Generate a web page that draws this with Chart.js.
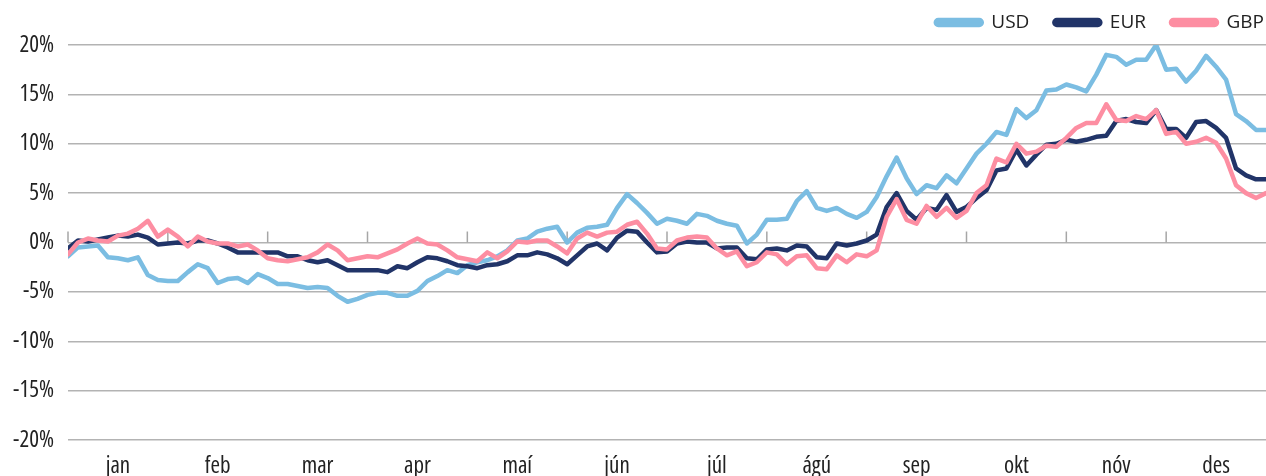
<!DOCTYPE html>
<html>
<head>
<meta charset="utf-8">
<script src="https://cdn.jsdelivr.net/npm/chart.js@4.4.1/dist/chart.umd.min.js"></script>
<style>
  html, body { margin: 0; padding: 0; background: #fff; }
  #wrap { width: 1266px; height: 476px; position: relative; }
</style>
</head>
<body>
<div id="wrap"><canvas id="fxChart"></canvas></div>
<script>
// months (Icelandic), 10 readings per month
const months = ['jan', 'feb', 'mar', 'apr', 'maí', 'jún', 'júl', 'ágú', 'sep', 'okt', 'nóv', 'des'];
const perMonth = 10;

const usd = [
  -1.4, -0.5, -0.4, -0.3, -1.5, -1.6, -1.8, -1.5, -3.3, -3.8,
  -3.9, -3.9, -3.0, -2.2, -2.6, -4.1, -3.7, -3.6, -4.1, -3.2,
  -3.6, -4.2, -4.2, -4.4, -4.6, -4.5, -4.6, -5.4, -6.0, -5.7,
  -5.3, -5.1, -5.1, -5.4, -5.4, -4.9, -3.9, -3.4, -2.8, -3.1,
  -2.3, -2.0, -1.8, -1.4, -0.8, 0.2, 0.4, 1.1, 1.4, 1.6,
  0.0, 1.0, 1.5, 1.6, 1.8, 3.5, 4.9, 4.0, 3.0, 1.9,
  2.4, 2.2, 1.9, 2.9, 2.7, 2.2, 1.9, 1.7, -0.1, 0.8,
  2.3, 2.3, 2.4, 4.2, 5.2, 3.5, 3.2, 3.5, 2.9, 2.5,
  3.1, 4.6, 6.7, 8.6, 6.5, 4.9, 5.8, 5.5, 6.8, 6.0,
  7.5, 9.0, 10.0, 11.2, 10.9, 13.5, 12.6, 13.4, 15.4, 15.5,
  16.0, 15.7, 15.3, 17.0, 19.0, 18.8, 18.0, 18.5, 18.5, 20.0,
  17.5, 17.6, 16.3, 17.4, 18.9, 17.8, 16.5, 13.0, 12.3, 11.4,
  11.4
];

const eur = [
  -0.6, 0.2, 0.1, 0.3, 0.5, 0.7, 0.6, 0.8, 0.5, -0.2,
  -0.1, 0.0, -0.1, 0.2, 0.2, -0.1, -0.5, -1.0, -1.0, -1.0,
  -1.0, -1.0, -1.4, -1.4, -1.8, -2.0, -1.8, -2.3, -2.8, -2.8,
  -2.8, -2.8, -3.0, -2.4, -2.6, -2.0, -1.5, -1.6, -1.9, -2.3,
  -2.4, -2.6, -2.3, -2.2, -1.9, -1.3, -1.3, -1.0, -1.2, -1.6,
  -2.2, -1.3, -0.4, -0.1, -0.8, 0.5, 1.2, 1.1, 0.0, -1.0,
  -0.9, -0.1, 0.1, 0.0, 0.0, -0.6, -0.5, -0.5, -1.6, -1.7,
  -0.7, -0.6, -0.8, -0.3, -0.4, -1.5, -1.6, -0.1, -0.3, -0.1,
  0.2, 0.8, 3.6, 5.0, 3.2, 2.3, 3.5, 3.3, 4.8, 3.1,
  3.6, 4.5, 5.3, 7.3, 7.5, 9.4, 7.8, 8.9, 9.9, 10.0,
  10.4, 10.2, 10.4, 10.7, 10.8, 12.3, 12.5, 12.2, 12.1, 13.4,
  11.5, 11.5, 10.6, 12.2, 12.3, 11.6, 10.6, 7.5, 6.8, 6.4,
  6.4
];

const gbp = [
  -1.2, 0.0, 0.4, 0.2, 0.1, 0.7, 0.9, 1.4, 2.2, 0.6,
  1.3, 0.6, -0.4, 0.6, 0.1, -0.1, -0.1, -0.4, -0.2, -0.8,
  -1.6, -1.8, -1.9, -1.7, -1.5, -1.0, -0.2, -0.8, -1.8, -1.6,
  -1.4, -1.5, -1.1, -0.7, -0.1, 0.4, -0.1, -0.2, -0.8, -1.5,
  -1.7, -1.9, -1.0, -1.6, -0.9, 0.1, 0.0, 0.2, 0.2, -0.4,
  -1.1, 0.4, 1.0, 0.6, 1.0, 1.1, 1.8, 2.1, 0.9, -0.6,
  -0.7, 0.2, 0.5, 0.6, 0.5, -0.6, -1.3, -0.9, -2.4, -2.0,
  -1.0, -1.2, -2.2, -1.4, -1.3, -2.6, -2.7, -1.3, -2.0, -1.2,
  -1.4, -0.8, 2.6, 4.4, 2.3, 1.9, 3.7, 2.6, 3.5, 2.5,
  3.2, 5.0, 5.8, 8.5, 8.1, 10.0, 9.0, 9.2, 9.8, 9.7,
  10.6, 11.6, 12.1, 12.1, 14.0, 12.4, 12.3, 12.8, 12.5, 13.4,
  11.0, 11.2, 10.0, 10.2, 10.6, 10.1, 8.5, 5.8, 5.0, 4.5,
  5.0
];

const yTicks = [-20, -15, -10, -5, 0, 5, 10, 15, 20];

const FONT = "'Open Sans', Roboto, sans-serif";

function toPoints(arr) {
  return arr.map((v, i) => ({ x: i / perMonth, y: v }));
}

// narrow type, close to the condensed face of the original
const condensed = {
  id: 'condensed',
  beforeLayout(chart) { chart.ctx.fontStretch = 'condensed'; },
  beforeDraw(chart) { chart.ctx.fontStretch = 'condensed'; }
};

// legend sits tight in the top right corner
const legendNudge = {
  id: 'legendNudge',
  afterLayout(chart) {
    const l = chart.legend;
    if (!l) return;
    l.left += 23; l.right += 23;
    l.top -= 12; l.bottom -= 12;
  }
};

// short tick marks at the month boundaries, standing on the 0% line
const monthMarks = {
  id: 'monthMarks',
  beforeDatasetsDraw(chart) {
    const { ctx, scales: { x, y } } = chart;
    const y0 = y.getPixelForValue(0);
    ctx.save();
    ctx.strokeStyle = '#a6a6a6';
    ctx.lineWidth = 1.5;
    for (let m = 0; m < months.length; m++) {
      const px = x.getPixelForValue(m);
      ctx.beginPath();
      ctx.moveTo(px, y0);
      ctx.lineTo(px, y0 - 11);
      ctx.stroke();
    }
    ctx.restore();
  }
};

const ctx = document.getElementById('fxChart');
new Chart(ctx, {
  type: 'line',
  data: {
    datasets: [
      { label: 'USD', data: toPoints(usd), borderColor: '#7bbde2', backgroundColor: '#7bbde2', order: 2 },
      { label: 'EUR', data: toPoints(eur), borderColor: '#213468', backgroundColor: '#213468', order: 1 },
      { label: 'GBP', data: toPoints(gbp), borderColor: '#fd8ea2', backgroundColor: '#fd8ea2', order: 0 }
    ]
  },
  options: {
    responsive: true,
    maintainAspectRatio: false,
    animation: false,
    layout: { padding: 0 },
    elements: {
      line: { borderWidth: 4.5, tension: 0, borderJoinStyle: 'round', borderCapStyle: 'round', fill: false },
      point: { radius: 0, hoverRadius: 0 }
    },
    plugins: {
      legend: {
        position: 'top',
        align: 'end',
        maxHeight: 45,
        labels: {
          color: '#222',
          font: { family: FONT, size: 19 },
          boxWidth: 46,
          boxHeight: 5,
          useBorderRadius: true,
          borderRadius: 2.5,
          padding: 25,
          sort: (a, b) => a.datasetIndex - b.datasetIndex
        }
      },
      tooltip: { enabled: false }
    },
    scales: {
      x: {
        type: 'linear',
        min: 0,
        max: 12,
        grid: { display: false },
        border: { display: false },
        afterBuildTicks: (s) => { s.ticks = months.map((m, i) => ({ value: i + 0.5 })); },
        ticks: {
          autoSkip: false,
          maxRotation: 0,
          padding: 5,
          color: '#222',
          font: { family: FONT, size: 23 },
          callback: (v) => months[Math.floor(v)]
        },
        afterFit: (s) => { s.height = 36; }
      },
      y: {
        min: -20,
        max: 20,
        afterBuildTicks: (s) => { s.ticks = yTicks.map(v => ({ value: v })); },
        grid: { color: '#b3b3b3', lineWidth: 1.5, drawTicks: false },
        border: { display: false },
        ticks: {
          padding: 14,
          color: '#222',
          font: { family: FONT, size: 23 },
          callback: (v) => v + '%'
        },
        afterFit: (s) => { s.width = 68; }
      }
    }
  },
  plugins: [condensed, legendNudge, monthMarks]
});
</script>
</body>
</html>
